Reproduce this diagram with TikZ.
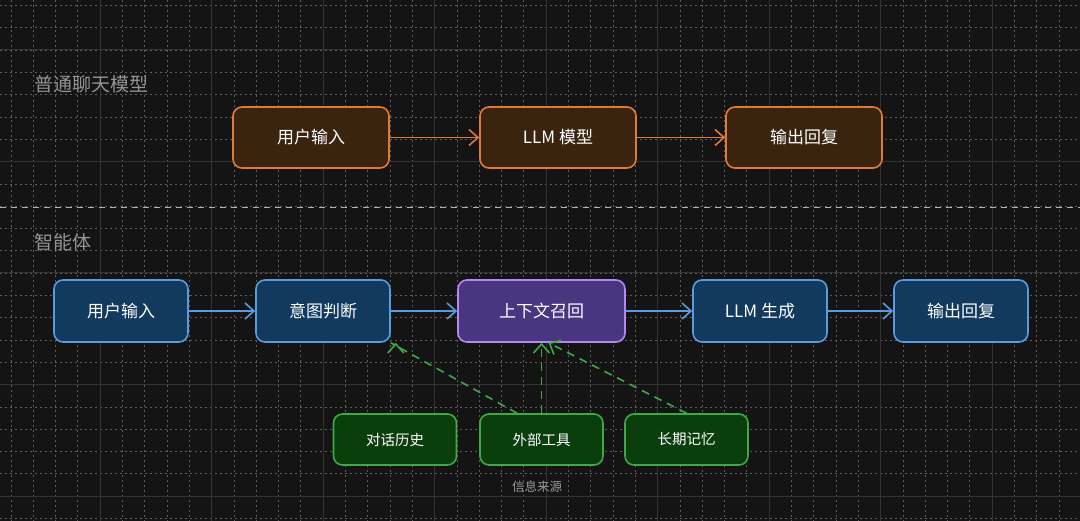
\documentclass[tikz,border=0pt]{standalone}
\usepackage{fontspec}
\setmainfont{Noto Sans CJK SC}
\usetikzlibrary{arrows.meta}
\definecolor{bgc}{HTML}{141414}
\definecolor{gridc}{HTML}{333333}
\definecolor{orgline}{HTML}{E07A35}
\definecolor{orgfill}{HTML}{3A2410}
\definecolor{blueline}{HTML}{5A9AE0}
\definecolor{bluefill}{HTML}{123A5E}
\definecolor{purline}{HTML}{B08AF0}
\definecolor{purfill}{HTML}{4A3580}
\definecolor{grnline}{HTML}{3EA84A}
\definecolor{grnfill}{HTML}{0A3F0C}
\tikzset{
  box/.style={draw, line width=1.6pt, rounded corners=9pt, text=white,
    font=\fontsize{17}{20}\selectfont, inner sep=0pt},
  orgbox/.style={box, draw=orgline, fill=orgfill, minimum width=156pt, minimum height=61pt},
  bluebox/.style={box, draw=blueline, fill=bluefill, minimum width=134pt, minimum height=62pt},
  purbox/.style={box, draw=purline, fill=purfill, minimum width=167pt, minimum height=62pt},
  grnbox/.style={box, draw=grnline, fill=grnfill, minimum width=123pt, minimum height=51pt,
    font=\fontsize{14.5}{17}\selectfont},
  flow/.style={line width=1.6pt, -{Straight Barb[length=9pt,width=16pt,line width=1.6pt]}},
  src/.style={flow, draw=grnline, dash pattern=on 8pt off 6pt},
  title/.style={text=gray!85, font=\fontsize{19}{22}\selectfont, anchor=west}
}
\begin{document}
\begin{tikzpicture}[x=1pt,y=-1pt]
% background and grid
\fill[bgc] (0,0) rectangle (1080,521);
\useasboundingbox (0,0) rectangle (1080,521);
\foreach \i in {0,...,50} {
  \draw[gridc!80, line width=0.5pt, dash pattern=on 2pt off 3pt] ({\i*22.3-11.5},0) -- ++(0,521);
}
\foreach \j in {0,...,24} {
  \draw[gridc!80, line width=0.5pt, dash pattern=on 2pt off 3pt] (0,{\j*22.3+5.4}) -- ++(1080,0);
}
\foreach \i in {0,...,9} {
  \draw[gridc, line width=1pt] ({\i*111.5-11.5},0) -- ++(0,521);
}
\foreach \j in {0,...,4} {
  \draw[gridc, line width=1pt] (0,{\j*111.5+50}) -- ++(1080,0);
}
\draw[gray!60, line width=1pt, dash pattern=on 6pt off 5pt] (0,208) -- (1080,208);

% section titles
\node[title] (chat) at (31,84) {普通聊天模型};
\node[title] (agent) at (31,242) {智能体};

% plain chat model
\node[orgbox] (cin) at (311,137.5) {用户输入};
\node[orgbox] (cllm) at (558,137.5) {LLM 模型};
\node[orgbox] (cout) at (804,137.5) {输出回复};
\draw[flow, orgline] (cin) -- (cllm);
\draw[flow, orgline] (cllm) -- (cout);

% agent
\node[bluebox] (ain) at (121,311) {用户输入};
\node[bluebox] (aint) at (323,311) {意图判断};
\node[purbox] (actx) at (541.5,311) {上下文召回};
\node[bluebox] (allm) at (760,311) {LLM 生成};
\node[bluebox] (aout) at (961,311) {输出回复};
\draw[flow, blueline] (ain) -- (aint);
\draw[flow, blueline] (aint) -- (actx);
\draw[flow, blueline] (actx) -- (allm);
\draw[flow, blueline] (allm) -- (aout);

% sources
\node[grnbox] (hist) at (395,439.5) {对话历史};
\node[grnbox] (tool) at (541.5,439.5) {外部工具};
\node[grnbox] (mem) at (686.5,439.5) {长期记忆};
\node[text=gray!80, font=\fontsize{12.5}{15}\selectfont] (srcs) at (537,487) {信息来源};
\draw[src] (hist.north) ++(122pt,0) coordinate (h0) (h0) -- (aint.south east) ++(5,0);
\draw[src] (tool) -- (actx);
\draw[src] (mem.north) -- ([xshift=7pt]actx.south);
\end{tikzpicture}
\end{document}
